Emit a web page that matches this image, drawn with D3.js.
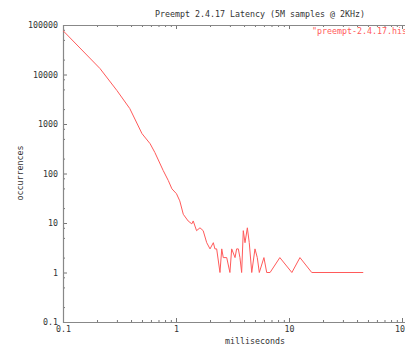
<!DOCTYPE html>
<html>
<head>
<meta charset="utf-8">
<script src="https://cdn.jsdelivr.net/npm/d3@7"></script>
<style>
  body { margin: 0; background: #fff; }
  svg { display: block; }
  text { font-family: "DejaVu Sans Mono", monospace; font-size: 8.3px; fill: #333; }
</style>
</head>
<body>
<svg id="chart" width="405" height="345"></svg>
<script>
// latency histogram (ms, occurrences)
var latencyMs = [0.1, 0.2125, 0.3, 0.39, 0.5, 0.59, 0.65, 0.77, 0.855, 0.92, 1.01, 1.08, 1.16, 1.28, 1.38, 1.42,
    1.52, 1.63, 1.74, 1.87, 2.0, 2.14, 2.21, 2.29, 2.45, 2.54, 2.62, 2.81, 3.0, 3.11, 3.33, 3.44, 3.56, 3.68,
    3.81, 3.94, 4.08, 4.28, 4.45, 4.68, 5.0, 5.24, 5.46, 6.0, 6.35, 6.8, 8.3, 10.6, 12.5, 15.9, 45.4];
var occurrences = [77000, 13200, 4750, 2050, 640, 400, 266, 115, 72, 49, 39, 28, 15, 11, 9.6, 11,
    7, 8, 7, 4, 3, 4, 3, 3, 1, 3, 2, 2, 1, 3, 2, 3, 3, 2,
    1, 7, 4, 8, 4, 1, 3, 2, 1, 2, 1, 1, 2, 1, 2, 1, 1];

var xMajor = [0.1, 1, 10, 100];
var xMinorSteps = [2, 3, 4, 5, 6, 7, 8, 9];
var yMajor = [0.1, 1, 10, 100, 1000, 10000, 100000];
var yMinorSteps = [2, 5, 8];

var title = "Preempt 2.4.17 Latency (5M samples @ 2KHz)";
var seriesName = "\"preempt-2.4.17.hist\"";

var svg = d3.select("#chart");
var W = 405, H = 345;
var padLeft = 63, padTop = 25, padBottom = 322;

var x = d3.scaleLog().domain([0.1, 100]).range([padLeft, 402]);
var y = d3.scaleLog().domain([0.1, 100000]).range([padBottom, padTop]);

function minors(majors, steps) {
    var out = [];
    majors.slice(0, -1).forEach(function (m) {
        steps.forEach(function (s) { out.push(m * s); });
    });
    return out;
}
var xMinor = minors(xMajor, xMinorSteps);
var yMinor = minors(yMajor, yMinorSteps);

var fmt = function (d) { return String(+d.toPrecision(6)); };

// ticks (inward, gnuplot style), bottom and mirrored on top
function addX(yPos, vals, size, labels) {
    var ax = (yPos === padBottom ? d3.axisBottom(x) : d3.axisTop(x))
        .tickValues(vals).tickSize(-size).tickPadding(4)
        .tickFormat(labels ? fmt : "");
    var g = svg.append("g").attr("transform", "translate(0," + yPos + ")").call(ax);
    g.select(".domain").remove();
    g.selectAll("line").attr("stroke", "#777");
    return g;
}
addX(padBottom, xMinor, 2, false);
addX(padBottom, xMajor, 4, true);
addX(padTop, xMinor, 2, false);
addX(padTop, xMajor, 4, false);

var yAx = svg.append("g").attr("transform", "translate(" + padLeft + ",0)");
yAx.append("g").call(d3.axisLeft(y).tickValues(yMinor).tickSize(-2).tickFormat(""));
yAx.append("g").call(d3.axisLeft(y).tickValues(yMajor).tickSize(-4).tickPadding(5).tickFormat(fmt));
yAx.selectAll(".domain").remove();
yAx.selectAll("line").attr("stroke", "#777");

svg.selectAll(".tick text").attr("fill", "#333").style("font-family", "DejaVu Sans Mono, monospace").style("font-size", "8.3px");

// border (right side falls outside the picture)
svg.append("path")
    .attr("d", "M" + W + "," + (padTop + 0.5) + "H" + (padLeft + 0.5) + "V" + (padBottom + 0.5) + "H" + W)
    .attr("fill", "none").attr("stroke", "#888").attr("stroke-width", 1.2);

svg.append("clipPath").attr("id", "plotclip")
    .append("rect").attr("x", padLeft).attr("y", padTop).attr("width", W - padLeft).attr("height", padBottom - padTop);

var pts = latencyMs.map(function (m, i) { return [m, occurrences[i]]; });
var line = d3.line().x(function (d) { return x(d[0]); }).y(function (d) { return y(d[1]); });

svg.append("path").datum(pts)
    .attr("clip-path", "url(#plotclip)")
    .attr("d", line)
    .attr("fill", "none")
    .attr("stroke", "#ff5a5a")
    .attr("stroke-width", 1);

svg.append("text").attr("x", 260).attr("y", 17).attr("text-anchor", "middle").text(title);
svg.append("text").attr("x", 312).attr("y", 34).style("fill", "#ff5a5a").text(seriesName);
svg.append("text").attr("x", 255).attr("y", 344).attr("text-anchor", "middle").text("milliseconds");
svg.append("text").attr("transform", "translate(23,173) rotate(-90)").attr("text-anchor", "middle").text("occurrences");
</script>
</body>
</html>
